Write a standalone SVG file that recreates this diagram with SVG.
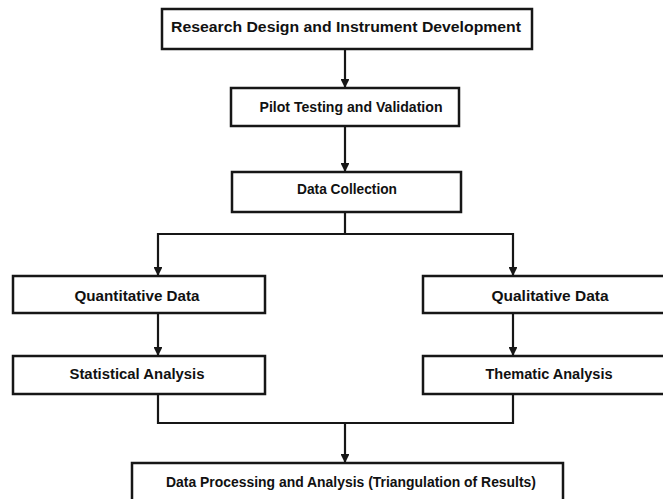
<svg xmlns="http://www.w3.org/2000/svg" width="663" height="499" viewBox="0 0 663 499">
<defs>
<style>
.box{fill:#fff;stroke:#161616;stroke-width:2.5}
.lbl{font-family:"Liberation Sans",Arial,sans-serif;font-weight:bold;font-size:14.5px;fill:#111}
.c{text-anchor:middle}
.ln{fill:none;stroke:#161616;stroke-width:2.2}
</style>
<marker id="ah" viewBox="0 0 10 10" refX="9" refY="5" markerWidth="4" markerHeight="4" orient="auto" markerUnits="strokeWidth">
<path d="M0,0 L10,5 L0,10 z" fill="#161616"/>
</marker>
</defs>
<rect width="663" height="499" fill="#fff"/>
<g id="connectors">
<line class="ln" x1="345" y1="49" x2="345" y2="87" marker-end="url(#ah)"/>
<line class="ln" x1="345" y1="126" x2="345" y2="171" marker-end="url(#ah)"/>
<polyline class="ln" points="345,212 345,234 158,234 158,275" marker-end="url(#ah)"/>
<polyline class="ln" points="345,234 513,234 513,275" marker-end="url(#ah)"/>
<line class="ln" x1="158" y1="313" x2="158" y2="355" marker-end="url(#ah)"/>
<line class="ln" x1="513" y1="313" x2="513" y2="355" marker-end="url(#ah)"/>
<polyline class="ln" points="158,394 158,423 513,423 513,394"/>
<line class="ln" x1="345" y1="423" x2="345" y2="462" marker-end="url(#ah)"/>
</g>
<g id="n1"><rect class="box" x="162" y="9" width="370" height="40"/><text class="lbl" x="171" y="32" textLength="350" lengthAdjust="spacingAndGlyphs">Research Design and Instrument Development</text></g>
<g id="n2"><rect class="box" x="231" y="88" width="228" height="38"/><text class="lbl c" x="351" y="112" textLength="183" lengthAdjust="spacingAndGlyphs">Pilot Testing and Validation</text></g>
<g id="n3"><rect class="box" x="232" y="172" width="229" height="40"/><text class="lbl c" x="347" y="194" textLength="100" lengthAdjust="spacingAndGlyphs">Data Collection</text></g>
<g id="n4"><rect class="box" x="13" y="276" width="252" height="37"/><text class="lbl c" x="137" y="301" textLength="125" lengthAdjust="spacingAndGlyphs">Quantitative Data</text></g>
<g id="n5"><rect class="box" x="423" y="276" width="250" height="37"/><text class="lbl c" x="550" y="301" textLength="117" lengthAdjust="spacingAndGlyphs">Qualitative Data</text></g>
<g id="n6"><rect class="box" x="13" y="356" width="252" height="38"/><text class="lbl c" x="137" y="379" textLength="135" lengthAdjust="spacingAndGlyphs">Statistical Analysis</text></g>
<g id="n7"><rect class="box" x="423" y="356" width="250" height="38"/><text class="lbl c" x="549" y="379" textLength="127" lengthAdjust="spacingAndGlyphs">Thematic Analysis</text></g>
<g id="n8"><rect class="box" x="132" y="463" width="431" height="45"/><text class="lbl c" x="351" y="487" textLength="370" lengthAdjust="spacingAndGlyphs">Data Processing and Analysis (Triangulation of Results)</text></g>
</svg>
